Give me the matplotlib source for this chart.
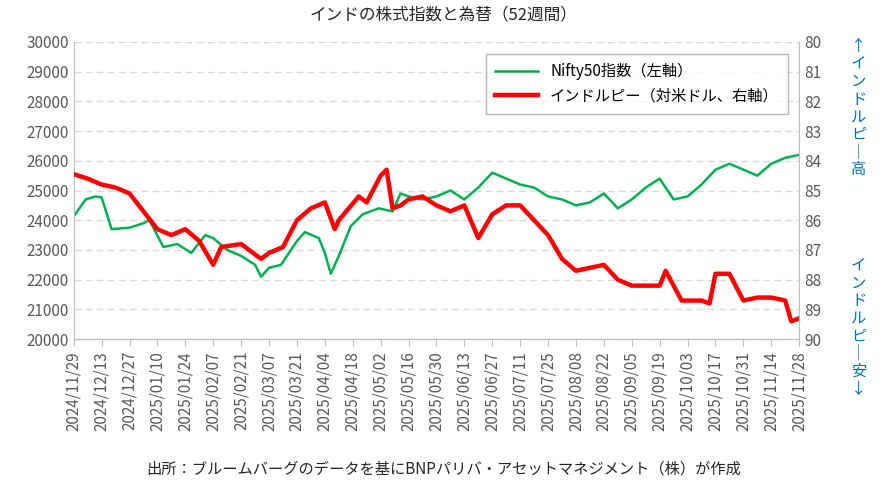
import matplotlib
matplotlib.use("Agg")
import matplotlib.pyplot as plt
import matplotlib.dates as mdates
import pandas as pd

plt.rcParams['font.family'] = ['Noto Sans CJK JP', 'DejaVu Sans']

nifty_dates = ["2024-11-29","2024-12-05","2024-12-10","2024-12-13","2024-12-18","2024-12-27","2025-01-03","2025-01-06","2025-01-13","2025-01-20","2025-01-27","2025-02-03","2025-02-07","2025-02-14","2025-02-21","2025-02-28","2025-03-03","2025-03-07","2025-03-13","2025-03-21","2025-03-25","2025-04-01","2025-04-04","2025-04-07","2025-04-11","2025-04-17","2025-04-23","2025-05-01","2025-05-08","2025-05-12","2025-05-16","2025-05-23","2025-05-30","2025-06-06","2025-06-13","2025-06-20","2025-06-27","2025-07-04","2025-07-11","2025-07-18","2025-07-25","2025-08-01","2025-08-08","2025-08-15","2025-08-22","2025-08-29","2025-09-05","2025-09-12","2025-09-19","2025-09-26","2025-10-03","2025-10-10","2025-10-17","2025-10-24","2025-10-31","2025-11-07","2025-11-14","2025-11-21","2025-11-28"]
nifty_vals = [24130,24700,24800,24770,23700,23750,23900,24000,23100,23200,22900,23500,23400,23000,22800,22500,22100,22400,22500,23300,23600,23400,22900,22200,22800,23800,24200,24400,24300,24900,24800,24700,24800,25000,24700,25100,25600,25400,25200,25100,24800,24700,24500,24600,24900,24400,24700,25100,25400,24700,24800,25200,25700,25900,25700,25500,25900,26100,26200]

inr_dates = ["2024-11-29","2024-12-06","2024-12-13","2024-12-20","2024-12-27","2025-01-03","2025-01-10","2025-01-17","2025-01-24","2025-01-31","2025-02-07","2025-02-11","2025-02-21","2025-03-03","2025-03-07","2025-03-14","2025-03-21","2025-03-28","2025-04-04","2025-04-09","2025-04-11","2025-04-21","2025-04-25","2025-05-02","2025-05-05","2025-05-08","2025-05-12","2025-05-16","2025-05-23","2025-05-30","2025-06-06","2025-06-13","2025-06-20","2025-06-27","2025-07-04","2025-07-11","2025-07-18","2025-07-25","2025-08-01","2025-08-08","2025-08-15","2025-08-22","2025-08-29","2025-09-05","2025-09-12","2025-09-19","2025-09-22","2025-09-30","2025-10-03","2025-10-10","2025-10-14","2025-10-17","2025-10-24","2025-10-31","2025-11-07","2025-11-14","2025-11-21","2025-11-24","2025-11-28"]
inr_vals = [84.45,84.6,84.8,84.9,85.1,85.7,86.3,86.5,86.3,86.7,87.5,86.9,86.8,87.3,87.1,86.9,86.0,85.6,85.4,86.3,86.0,85.2,85.4,84.5,84.3,85.6,85.5,85.3,85.2,85.5,85.7,85.5,86.6,85.8,85.5,85.5,86.0,86.5,87.3,87.7,87.6,87.5,88.0,88.2,88.2,88.2,87.7,88.7,88.7,88.7,88.8,87.8,87.8,88.7,88.6,88.6,88.7,89.4,89.3]

nd = pd.to_datetime(nifty_dates)
idt = pd.to_datetime(inr_dates)
tick_dates = pd.date_range("2024-11-29", "2025-11-28", freq="14D")

fig = plt.figure(figsize=(8.88, 5.04), dpi=100)
ax = fig.add_axes([0.083, 0.327, 0.817, 0.59])
ax2 = ax.twinx()

ax.plot(nd, nifty_vals, color='#00B050', lw=1.8, label='Nifty50指数（左軸）')
ax2.plot(idt, inr_vals, color='#FF0000', lw=3.2, label='インドルピー（対米ドル、右軸）')

ax.set_ylim(20000, 30000)
ax.set_yticks(range(20000, 30001, 1000))
ax2.set_ylim(90, 80)
ax2.set_yticks(range(80, 91))
ax.set_xlim(tick_dates[0], tick_dates[-1])
ax.set_xticks(tick_dates)
ax.xaxis.set_major_formatter(mdates.DateFormatter('%Y/%m/%d'))
for lab in ax.get_xticklabels():
    lab.set_rotation(90)
ax.grid(axis='y', color='#D9D9D9', ls=(0, (5, 3)), lw=1)
for a in (ax, ax2):
    for s in ['top', 'right', 'left']:
        a.spines[s].set_visible(False)
    a.spines['bottom'].set_color('#BFBFBF')
    a.tick_params(colors='#595959', labelsize=11, length=0)
ax.spines['left'].set_visible(True)
ax.spines['left'].set_color('#BFBFBF')
ax.spines['right'].set_visible(True)
ax.spines['right'].set_color('#BFBFBF')
ax.tick_params(axis='x', length=5, color='#BFBFBF')

h1, l1 = ax.get_legend_handles_labels()
h2, l2 = ax2.get_legend_handles_labels()
leg = ax2.legend(h1 + h2, l1 + l2, loc='upper right', bbox_to_anchor=(0.995, 0.985), fontsize=11,
                 frameon=True, fancybox=False, edgecolor='#A6A6A6', borderpad=0.6, handlelength=2.8)
leg.get_frame().set_linewidth(1)

fig.text(0.5, 0.962, 'インドの株式指数と為替（52週間）', ha='center', fontsize=12, color='#262626')
fig.text(0.5, 0.06, '出所：ブルームバーグのデータを基にBNPパリバ・アセットマネジメント（株）が作成', ha='center', fontsize=11, color='#262626')

up = ['↑', 'イ', 'ン', 'ド', 'ル', 'ピ', '｜', '高']
down = ['イ', 'ン', 'ド', 'ル', 'ピ', '｜', '安', '↓']
fig.text(0.967, 0.925, '\n'.join(up), ha='center', va='top', fontsize=11, color='#0070C0', linespacing=1.05)
fig.text(0.967, 0.49, '\n'.join(down), ha='center', va='top', fontsize=11, color='#0070C0', linespacing=1.05)

fig.savefig('out.png', dpi=100)
